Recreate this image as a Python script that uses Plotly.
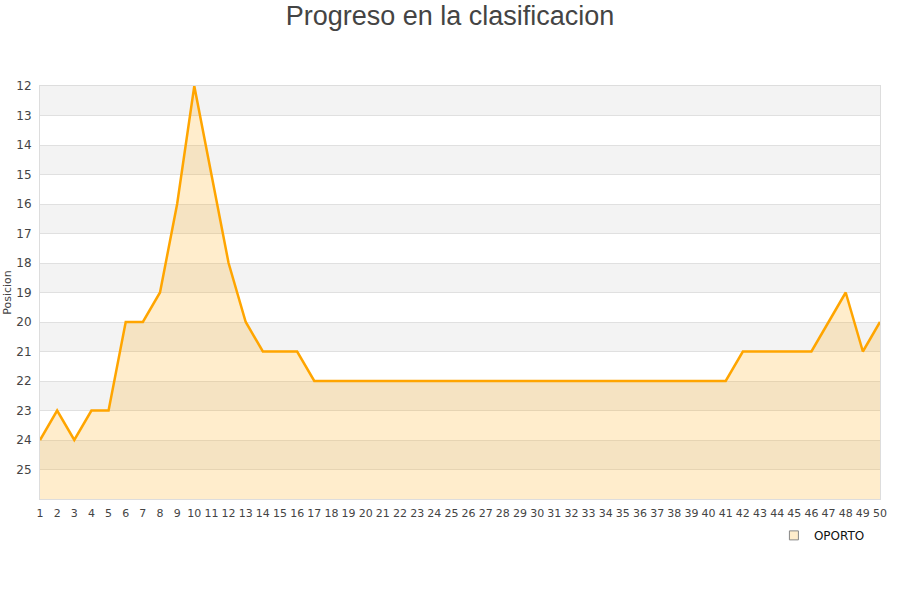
import plotly.graph_objects as go

jornadas = list(range(1, 51))
posiciones = [24, 23, 24, 23, 23, 20, 20, 19, 16, 12,
              15, 18, 20, 21, 21, 21, 22, 22, 22, 22,
              22, 22, 22, 22, 22, 22, 22, 22, 22, 22,
              22, 22, 22, 22, 22, 22, 22, 22, 22, 22,
              22, 21, 21, 21, 21, 21, 20, 19, 21, 20]
y_ticks = list(range(12, 26))
team = "OPORTO"

fig = go.Figure()

# alternating bands
shapes = []
for k in range(12, 26):
    if (k - 12) % 2 == 0:
        shapes.append(dict(type="rect", xref="paper", yref="y", x0=0, x1=1,
                           y0=k, y1=k + 1, fillcolor="#f3f3f3",
                           line=dict(width=0), layer="below"))

fig.add_trace(go.Scatter(
    x=jornadas, y=[26] * len(jornadas), mode="lines",
    line=dict(width=0, color="rgba(0,0,0,0)"), showlegend=False, hoverinfo="skip"))
fig.add_trace(go.Scatter(
    x=jornadas, y=posiciones, mode="lines", fill="tonexty",
    fillcolor="rgba(255,165,0,0.2)",
    line=dict(color="#FFA500", width=2.5), name=team, showlegend=False))
fig.add_trace(go.Scatter(
    x=[None], y=[None], mode="markers", name=team,
    marker=dict(symbol="square", size=9, color="rgba(255,165,0,0.2)",
                line=dict(color="#888888", width=1))))

fig.update_layout(
    width=900, height=600,
    paper_bgcolor="white", plot_bgcolor="white",
    margin=dict(l=40, r=20, t=86, b=101, autoexpand=False),
    title=dict(text="Progreso en la clasificacion", x=0.5, xanchor="center",
               y=0.99, yanchor="top",
               font=dict(family="Liberation Sans, Arial, sans-serif", size=27, color="#444444")),
    font=dict(family="DejaVu Sans, sans-serif", size=11, color="#444444"),
    shapes=shapes,
    showlegend=True,
    legend=dict(x=0.988, xanchor="right", y=-0.053, yanchor="top",
                font=dict(size=12, color="#111111"), bgcolor="rgba(0,0,0,0)",
                itemwidth=30),
    xaxis=dict(range=[1, 50], tickmode="array", tickvals=jornadas,
               ticktext=[str(j) for j in jornadas], showgrid=False,
               zeroline=False, showline=True, linecolor="#dddddd",
               tickfont=dict(size=11), ticks="outside", ticklen=4,
               tickcolor="rgba(0,0,0,0)", automargin=False),
    yaxis=dict(range=[26, 12], tickmode="array", tickvals=y_ticks,
               ticktext=[str(t) for t in y_ticks], showgrid=True,
               gridcolor="#e0e0e0", gridwidth=1, zeroline=False,
               showline=True, linecolor="#dddddd", automargin=False,
               ticks="outside", ticklen=5, tickcolor="rgba(0,0,0,0)",
               title=dict(text="Posicion", font=dict(size=11), standoff=2),
               tickfont=dict(size=12)),
)
fig.update_xaxes(mirror=True)
fig.update_yaxes(mirror=True)

fig.write_html("out.html", config={"displayModeBar": False},
               post_script="document.body.style.margin='0';")
